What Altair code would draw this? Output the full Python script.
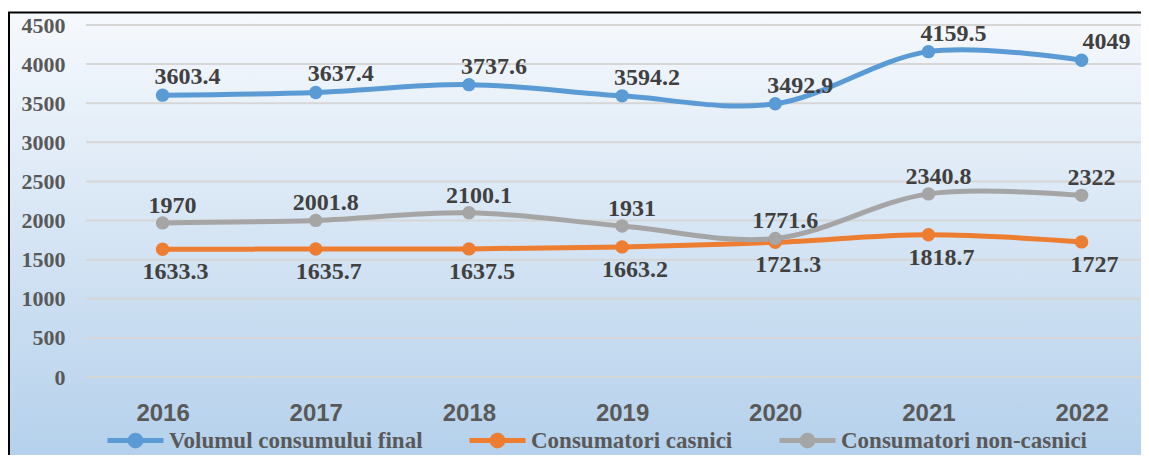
import altair as alt
import pandas as pd

# ---- data ----
years = [2016, 2017, 2018, 2019, 2020, 2021, 2022]
series_names = ["Volumul consumului final", "Consumatori casnici", "Consumatori non-casnici"]
volum_final = [3603.4, 3637.4, 3737.6, 3594.2, 3492.9, 4159.5, 4049]
casnici = [1633.3, 1635.7, 1637.5, 1663.2, 1721.3, 1818.7, 1727]
non_casnici = [1970, 2001.8, 2100.1, 1931, 1771.6, 2340.8, 2322]
y_ticks = [0, 500, 1000, 1500, 2000, 2500, 3000, 3500, 4000, 4500]
series_colors = ["#5b9bd5", "#ed7d31", "#a5a5a5"]

rows = []
for name, vals in zip(series_names, [volum_final, casnici, non_casnici]):
    for yr, v in zip(years, vals):
        rows.append({"year": yr, "series": name, "value": v, "label": f"{v:g}"})
df = pd.DataFrame(rows)
grid_df = pd.DataFrame({"v": y_ticks})
bg_df = pd.DataFrame({"k": [0]})

W, H = 1055, 352
SERIF = "Liberation Serif"
SANS = "Liberation Sans"

x_scale = alt.Scale(domain=[2015.5, 2015.5 + W / 153.17], nice=False, zero=False)
y_scale = alt.Scale(domain=[0, 4500], nice=False)

x_axis = alt.Axis(values=years, format="d", grid=False, domain=False, ticks=False, tickSize=0,
                  labelPadding=24, labelFont=SANS, labelFontSize=24, labelFontWeight="bold",
                  labelColor="#595959", title=None, zindex=1)
y_axis = alt.Axis(values=y_ticks, format="d", grid=False, domain=False, ticks=False, tickSize=0,
                  labelPadding=21, labelFont=SERIF, labelFontSize=22, labelFontWeight="bold",
                  labelColor="#595959", title=None, zindex=1)

r = 0.19
SYM = (f"M-1,0L1,0M-{r},0A{r},{r},0,1,0,{r},0A{r},{r},0,1,0,-{r},0Z")
leg = alt.Legend(
    title=None, orient="none", legendX=19, legendY=385, direction="horizontal",
    symbolType=SYM, symbolSize=3136, symbolStrokeWidth=5, symbolOpacity=1,
    labelFont=SERIF, labelFontSize=23, labelFontWeight="bold", labelColor="#595959",
    labelLimit=500, labelOffset=3, columnPadding=36, padding=0,
)
cscale = alt.Scale(domain=series_names, range=series_colors)
stroke_enc = alt.Stroke("series:N", scale=cscale, legend=leg)
fill_enc = alt.Fill("series:N", scale=cscale, legend=leg)

background = alt.Chart(bg_df).mark_rect(
    fill=alt.Gradient(gradient="linear", x1=0, x2=0, y1=0, y2=1,
                      stops=[alt.GradientStop(color="#f6f9fd", offset=0),
                             alt.GradientStop(color="#afcdea", offset=1)]),
    stroke="black", strokeWidth=2,
).encode(x=alt.value(-77), x2=alt.value(W + 30), y=alt.value(-12.5), y2=alt.value(H + 120))

grid = alt.Chart(grid_df).mark_rule(color="#d6d6d6", strokeWidth=2).encode(
    y=alt.Y("v:Q", scale=y_scale, axis=y_axis),
    x=alt.value(0), x2=alt.value(W),
)

base = alt.Chart(df)
xenc = alt.X("year:Q", scale=x_scale, axis=x_axis)
yenc = alt.Y("value:Q", scale=y_scale, axis=y_axis)

lines = base.mark_line(interpolate="cardinal", strokeWidth=5, strokeCap="round").encode(
    x=xenc, y=yenc, stroke=stroke_enc, detail="series:N")
points = base.mark_point(size=180, opacity=1, filled=True, strokeWidth=0).encode(
    x=xenc, y=yenc, fill=fill_enc, stroke=stroke_enc)

def labels(name, dx, dy):
    return base.transform_filter(alt.datum.series == name).mark_text(
        font=SERIF, fontSize=24, fontWeight="bold", color="#404040",
        dx=dx, dy=dy, baseline="middle", align="center",
    ).encode(x=xenc, y=yenc, text="label:N")

chart = alt.layer(
    background, grid, lines, points,
    labels(series_names[0], 25, -18),
    labels(series_names[1], 13, 23),
    labels(series_names[2], 10, -17),
).properties(
    width=W, height=H,
    padding={"left": 78, "top": 17, "right": 0, "bottom": 78},
    autosize=alt.AutoSizeParams(type="none"),
).configure_view(stroke=None).configure(background="white")

chart.save("out.html", embed_options={"renderer": "svg", "actions": False})
